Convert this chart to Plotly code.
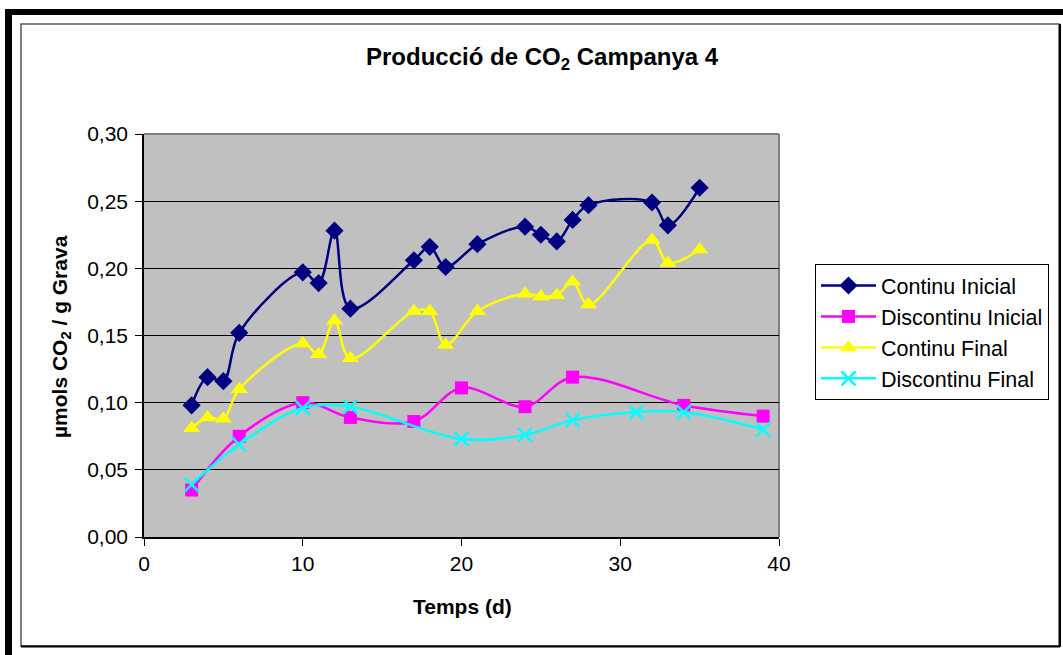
import plotly.graph_objects as go

# ---- data ----
ci_x = [3, 4, 5, 6, 10, 11, 12, 13, 17, 18, 19, 21, 24, 25, 26, 27, 28, 32, 33, 35]
ci_y = [0.098, 0.119, 0.116, 0.152, 0.197, 0.189, 0.228, 0.170, 0.206, 0.216, 0.201,
        0.218, 0.231, 0.225, 0.220, 0.236, 0.247, 0.249, 0.232, 0.260]

di_x = [3, 6, 10, 13, 17, 20, 24, 27, 34, 39]
di_y = [0.035, 0.075, 0.100, 0.089, 0.086, 0.111, 0.097, 0.119, 0.098, 0.090]

cf_x = [3, 4, 5, 6, 10, 11, 12, 13, 17, 18, 19, 21, 24, 25, 26, 27, 28, 32, 33, 35]
cf_y = [0.081, 0.089, 0.088, 0.110, 0.144, 0.136, 0.161, 0.133, 0.168, 0.168, 0.143,
        0.168, 0.181, 0.179, 0.180, 0.190, 0.173, 0.221, 0.204, 0.214]

df_x = [3, 6, 10, 13, 20, 24, 27, 31, 34, 39]
df_y = [0.039, 0.069, 0.096, 0.097, 0.073, 0.076, 0.087, 0.093, 0.093, 0.080]

names = ["Continu Inicial", "Discontinu Inicial", "Continu Final", "Discontinu Final"]

FONT = "Liberation Sans, Arial, sans-serif"

# plot area in pixels
W, H = 1063, 655
L, R, T, B = 144, 779, 134, 537


def px(x):
    return (x - L) / (R - L)


def py(y):
    return (B - y) / (B - T)


fig = go.Figure()

line_w = 2.5
fig.add_trace(go.Scatter(
    x=ci_x, y=ci_y, name=names[0], mode="lines+markers", legendgroup="a",
    line=dict(color="#000080", width=line_w, shape="spline", smoothing=1),
    marker=dict(symbol="diamond", size=14, color="#000080")))
fig.add_trace(go.Scatter(
    x=di_x, y=di_y, name=names[1], mode="lines+markers", legendgroup="b",
    line=dict(color="#FF00FF", width=line_w, shape="spline", smoothing=1),
    marker=dict(symbol="square", size=13, color="#FF00FF")))
fig.add_trace(go.Scatter(
    x=cf_x, y=cf_y, name=names[2], mode="lines+markers", legendgroup="c",
    line=dict(color="#FFFF00", width=line_w, shape="spline", smoothing=1),
    marker=dict(symbol="triangle-up", size=15, color="#FFFF00")))
fig.add_trace(go.Scatter(
    x=df_x, y=df_y, name=names[3], mode="lines+markers", legendgroup="d",
    line=dict(color="#00FFFF", width=line_w, shape="spline", smoothing=1),
    marker=dict(symbol="x-thin", size=14, color="#00FFFF",
                line=dict(color="#00FFFF", width=2.5))))

shapes = [
    # thick black outer bands
    dict(type="rect", xref="paper", yref="paper", x0=px(5), x1=px(1063), y0=py(9), y1=py(15),
         fillcolor="black", line=dict(width=0), layer="above"),
    dict(type="rect", xref="paper", yref="paper", x0=px(5), x1=px(12), y0=py(9), y1=py(655),
         fillcolor="black", line=dict(width=0), layer="above"),
    # inner frame
    dict(type="rect", xref="paper", yref="paper", x0=px(21), x1=px(1059), y0=py(24), y1=py(646),
         line=dict(color="#555555", width=1.5), layer="above"),
    dict(type="line", xref="paper", yref="paper", x0=px(1060), x1=px(1060), y0=py(24), y1=py(647),
         line=dict(color="black", width=2), layer="above"),
    dict(type="line", xref="paper", yref="paper", x0=px(21), x1=px(1060), y0=py(646.5), y1=py(646.5),
         line=dict(color="black", width=2), layer="above"),
    # plot area border (gray top/right)
    dict(type="line", xref="paper", yref="paper", x0=0, x1=1, y0=1, y1=1,
         line=dict(color="#808080", width=2), layer="below"),
    dict(type="line", xref="paper", yref="paper", x0=1, x1=1, y0=0, y1=1,
         line=dict(color="#808080", width=2), layer="below"),
]

annotations = [
    dict(text="<b>Producció de CO<sub>2</sub> Campanya 4</b>", xref="paper", yref="paper",
         x=px(542), y=py(58), showarrow=False, font=dict(family=FONT, size=24, color="black"),
         xanchor="center", yanchor="middle"),
    dict(text="<b>Temps (d)</b>", xref="paper", yref="paper",
         x=px(462), y=py(606), showarrow=False, font=dict(family=FONT, size=21, color="black"),
         xanchor="center", yanchor="middle"),
    dict(text="<b>µmols CO<sub>2</sub> / g Grava</b>", xref="paper", yref="paper",
         x=px(61), y=py(336), showarrow=False, textangle=-90,
         font=dict(family=FONT, size=21, color="black"),
         xanchor="center", yanchor="middle"),
]

fig.update_layout(
    width=W, height=H, autosize=False,
    margin=dict(l=L, r=W - R, t=T, b=H - B, pad=0),
    paper_bgcolor="white", plot_bgcolor="#C0C0C0",
    separators=",.",
    font=dict(family=FONT, size=21, color="black"),
    showlegend=True,
    legend=dict(x=px(815), y=py(264), xanchor="left", yanchor="top",
                xref="paper", yref="paper",
                bordercolor="black", borderwidth=1, bgcolor="white",
                font=dict(family=FONT, size=21.5, color="black"),
                itemwidth=55, tracegroupgap=7, traceorder="normal",
                itemclick=False),
    shapes=shapes,
    annotations=annotations,
    xaxis=dict(range=[0, 40], dtick=10, tick0=0, showgrid=False, zeroline=False,
               showline=True, linecolor="black", linewidth=1.5,
               ticks="outside", ticklen=7, tickcolor="black", tickwidth=1,
               tickfont=dict(family=FONT, size=21), fixedrange=True),
    yaxis=dict(range=[0, 0.30], dtick=0.05, tick0=0, tickformat=".2f",
               showgrid=True, gridcolor="black", gridwidth=1, zeroline=False,
               showline=True, linecolor="black", linewidth=1.5,
               ticks="outside", ticklen=7, tickcolor="black", tickwidth=1,
               ticklabelstandoff=3,
               tickfont=dict(family=FONT, size=21), fixedrange=True),
)

fig.write_html("out.html")
